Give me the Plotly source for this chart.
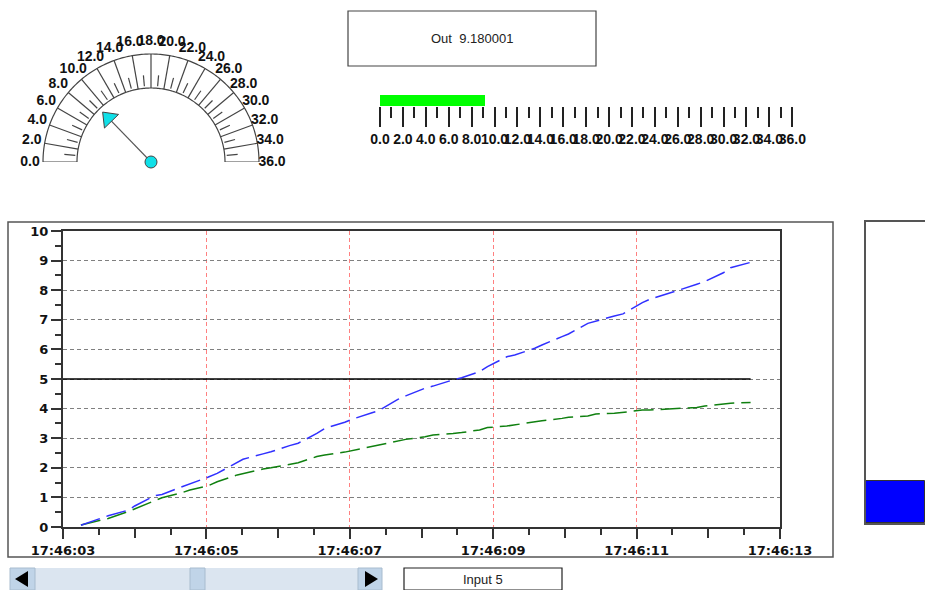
import plotly.graph_objects as go
import pandas as pd
import numpy as np

W, H = 925, 590

# ---------------- data ----------------
t_sec = [3.25, 3.52, 3.63, 3.91, 4.00, 4.28, 4.38, 4.66, 4.77, 5.02,
         5.15, 5.43, 5.51, 5.79, 5.90, 6.16, 6.28, 6.54, 6.65, 6.93,
         7.03, 7.31, 7.40, 7.67, 7.78, 8.05, 8.16, 8.44, 8.56, 8.81,
         8.92, 9.19, 9.30, 9.58, 9.68, 9.96, 10.05, 10.32, 10.43, 10.69,
         10.81, 11.08, 11.18, 11.46, 11.56, 11.84, 11.95, 12.21, 12.31, 12.59]
blue_vals = [0.06, 0.29, 0.38, 0.57, 0.71, 1.06, 1.10, 1.36, 1.45, 1.68,
             1.81, 2.20, 2.29, 2.47, 2.54, 2.75, 2.83, 3.16, 3.33, 3.54,
             3.64, 3.86, 3.93, 4.31, 4.43, 4.69, 4.76, 4.97, 5.04, 5.25,
             5.42, 5.75, 5.81, 6.04, 6.15, 6.43, 6.52, 6.88, 6.96, 7.13,
             7.20, 7.58, 7.69, 7.92, 7.98, 8.20, 8.29, 8.59, 8.76, 8.94]
green_vals = [0.07, 0.24, 0.29, 0.52, 0.61, 0.91, 0.99, 1.16, 1.25, 1.39,
              1.53, 1.76, 1.81, 1.96, 2.00, 2.12, 2.17, 2.38, 2.43, 2.53,
              2.58, 2.71, 2.75, 2.88, 2.96, 3.05, 3.11, 3.16, 3.19, 3.28,
              3.36, 3.41, 3.45, 3.56, 3.59, 3.67, 3.71, 3.75, 3.82, 3.84,
              3.88, 3.95, 3.95, 3.99, 4.01, 4.04, 4.09, 4.16, 4.18, 4.21]
limit_value = 5
limit_t = [3.0, 12.59]
x_range_sec = [3, 13]
base_time = "2024-01-01 17:46:00"

gauge_value = 9.180001
out_text = "Out  9.180001"
scale_min, scale_max = 0, 36
gauge_major = list(range(0, 37, 2))
gauge_minor = list(range(1, 36, 2))
gauge_labels = [f"{v:.1f}" for v in gauge_major]
input_value = 5
input_text = "Input 5"

# ---------------- helpers ----------------
def px(x):
    return x / W

def py(y):
    return 1 - y / H

base = pd.Timestamp(base_time)
def ts(s):
    return base + pd.Timedelta(seconds=s)

times = [ts(s) for s in t_sec]
BOLD = dict(family="Liberation Sans, Arial, sans-serif", weight="bold", color="#111")
AXFONT = dict(family="DejaVu Sans, Verdana, sans-serif", weight="bold", color="#111", size=13)

fig = go.Figure()

# ---------------- main chart ----------------
dash_pat = "20px,7px"
fig.add_trace(go.Scatter(x=[ts(s) for s in limit_t], y=[limit_value] * len(limit_t),
                         mode="lines", line=dict(color="#000000", width=1.5),
                         xaxis="x", yaxis="y", hoverinfo="skip"))
fig.add_trace(go.Scatter(x=times, y=green_vals, mode="lines",
                         line=dict(color="#108010", width=1.5, dash=dash_pat),
                         xaxis="x", yaxis="y"))
fig.add_trace(go.Scatter(x=times, y=blue_vals, mode="lines",
                         line=dict(color="#3030ff", width=1.5, dash=dash_pat),
                         xaxis="x", yaxis="y"))
# empty trace to register the 1-second tick overlay axis
fig.add_trace(go.Scatter(x=[], y=[], xaxis="x2", yaxis="y", hoverinfo="skip"))

xr = [ts(x_range_sec[0]), ts(x_range_sec[1])]
main_xdom = [px(63), px(780)]
main_ydom = [py(527), py(231)]
axcol = "#333333"

fig.update_layout(
    xaxis=dict(domain=main_xdom, anchor="y", type="date", range=xr,
               tick0=ts(x_range_sec[0]), dtick=2000, tickformat="%H:%M:%S",
               ticks="outside", ticklen=10, tickwidth=1.5, tickcolor=axcol,
               tickangle=0, tickfont=AXFONT, automargin=False,
               showgrid=True, gridcolor="#ff8080", griddash="4px,3px", gridwidth=1,
               minor=dict(dtick=500, ticks="outside", ticklen=6, tickwidth=1.5,
                          tickcolor=axcol, showgrid=False),
               showline=True, linecolor=axcol, linewidth=2, mirror=True,
               zeroline=False),
    xaxis2=dict(domain=main_xdom, anchor="y", overlaying="x", type="date", range=xr,
                tick0=ts(x_range_sec[0]), dtick=1000, ticks="outside", ticklen=10,
                tickwidth=1.5, tickcolor=axcol, showticklabels=False, automargin=False,
                showgrid=False, showline=False, zeroline=False),
    yaxis=dict(domain=main_ydom, anchor="x", range=[0, 10], dtick=1,
               ticks="outside", ticklen=10, tickwidth=1.5, tickcolor=axcol,
               tickfont=AXFONT, automargin=False,
               showgrid=True, gridcolor="#808080", griddash="4px,3px", gridwidth=1,
               minor=dict(dtick=0.5, ticks="outside", ticklen=6, tickwidth=1.5,
                          tickcolor=axcol, showgrid=False),
               showline=True, linecolor=axcol, linewidth=2, mirror=True,
               zeroline=False),
)

# ---------------- linear scale (top middle) ----------------
fig.add_trace(go.Bar(x=[gauge_value], y=[0], orientation="h", width=1,
                     marker=dict(color="#00ff00", line=dict(width=0)),
                     xaxis="x3", yaxis="y3"))
fig.update_layout(
    xaxis3=dict(domain=[px(380), px(792.3)], anchor="y3", range=[scale_min, scale_max],
                tickmode="linear", tick0=0, dtick=2, tickformat=".1f",
                ticks="outside", ticklen=20, tickwidth=1.5, tickcolor="#222",
                tickangle=0, tickfont=dict(size=14, **BOLD), automargin=False,
                minor=dict(dtick=1, ticks="outside", ticklen=11, tickwidth=1.5,
                           tickcolor="#222", showgrid=False),
                showline=False, showgrid=False, zeroline=False),
    yaxis3=dict(domain=[py(106), py(95)], anchor="x3", range=[-0.5, 0.5], visible=False,
                automargin=False),
)

# ---------------- vertical bar widget (right) ----------------
fig.add_trace(go.Bar(x=[0], y=[input_value], width=1,
                     marker=dict(color="#0000ff", line=dict(color="#333", width=1)),
                     xaxis="x4", yaxis="y4"))
fig.update_layout(
    xaxis4=dict(domain=[px(866), 1.0], anchor="y4", range=[-0.5, 0.5],
                showticklabels=False, ticks="", showgrid=False, zeroline=False,
                showline=True, linecolor="#555", linewidth=2, mirror=True, automargin=False),
    yaxis4=dict(domain=[py(523), py(222)], anchor="x4", range=[scale_min, scale_max],
                showticklabels=False, ticks="", showgrid=False, zeroline=False,
                showline=True, linecolor="#555", linewidth=2, automargin=False),
)

# ---------------- semicircular gauge ----------------
deg_per_unit = 180 / (scale_max - scale_min)
R_OUT, R_IN = 108, 74
R_LAB = 121
R_MAX = 136
CX, CY = 151, 162
def th(v):
    return (v - scale_min) * deg_per_unit

ring_col = "#444"
arc_theta = np.linspace(0, 180, 181)
for rr in (R_IN, R_OUT):
    fig.add_trace(go.Scatterpolar(r=[rr] * len(arc_theta), theta=arc_theta, mode="lines",
                                  line=dict(color=ring_col, width=1.2), hoverinfo="skip",
                                  cliponaxis=False))
maj_r, maj_t = [], []
for v in gauge_major:
    maj_r += [R_IN, R_OUT, None]
    maj_t += [th(v), th(v), None]
fig.add_trace(go.Scatterpolar(r=maj_r, theta=maj_t, mode="lines",
                              line=dict(color=ring_col, width=1.2), hoverinfo="skip",
                              cliponaxis=False))
min_r, min_t = [], []
for v in gauge_minor:
    min_r += [R_IN + 2, R_IN + 13, None]
    min_t += [th(v), th(v), None]
fig.add_trace(go.Scatterpolar(r=min_r, theta=min_t, mode="lines",
                              line=dict(color=ring_col, width=1.2), hoverinfo="skip",
                              cliponaxis=False))
# labels
fig.add_trace(go.Scatterpolar(r=[R_LAB] * len(gauge_major), theta=[th(v) for v in gauge_major],
                              mode="text", text=gauge_labels, textposition="middle center",
                              textfont=dict(size=14, **BOLD), hoverinfo="skip",
                              cliponaxis=False))
tv = th(gauge_value)
fig.add_trace(go.Scatterpolar(r=[0, 60], theta=[tv, tv], mode="lines",
                              line=dict(color="#555", width=1.2), hoverinfo="skip",
                              cliponaxis=False))
fig.add_trace(go.Scatterpolar(r=[61], theta=[tv], mode="markers",
                              marker=dict(symbol="triangle-up", size=17, angle=tv - 90,
                                          color="#10e0e8", line=dict(color="#444", width=1)),
                              hoverinfo="skip", cliponaxis=False))
fig.add_trace(go.Scatterpolar(r=[0], theta=[tv], mode="markers",
                              marker=dict(symbol="circle", size=12, color="#10e0e8",
                                          line=dict(color="#444", width=1)),
                              hoverinfo="skip", cliponaxis=False))

fig.update_layout(
    polar=dict(domain=dict(x=[px(CX - R_MAX), px(CX + R_MAX)], y=[py(CY), py(CY - R_MAX)]),
               sector=[0, 180], bgcolor="rgba(0,0,0,0)", hole=0,
               radialaxis=dict(range=[0, R_MAX], visible=False),
               angularaxis=dict(rotation=180, direction="clockwise", visible=False,
                                showticklabels=False, ticks="", showgrid=False,
                                showline=False)),
)

# ---------------- decorations (boxes, scrollbar) ----------------
shapes = []
annotations = []
txtfont = dict(family="Liberation Sans, Arial", size=13, color="#222")
# main chart outer frame
shapes.append(dict(type="rect", xref="paper", yref="paper", x0=px(8), x1=px(833),
                   y0=py(557), y1=py(222), line=dict(color="#555", width=1.5), layer="below"))
# Out box
shapes.append(dict(type="rect", xref="paper", yref="paper", x0=px(348), x1=px(596),
                   y0=py(66), y1=py(11), line=dict(color="#444", width=1.2)))
annotations.append(dict(xref="paper", yref="paper", x=px(472), y=py(39), text=out_text,
                        xanchor="center", yanchor="middle", showarrow=False, font=txtfont))
# Input box
shapes.append(dict(type="rect", xref="paper", yref="paper", x0=px(404), x1=px(562),
                   y0=py(590), y1=py(568), line=dict(color="#222", width=1.2)))
annotations.append(dict(xref="paper", yref="paper", x=px(483), y=py(579), text=input_text,
                        xanchor="center", yanchor="middle", showarrow=False, font=txtfont))
# scrollbar track
shapes.append(dict(type="rect", xref="paper", yref="paper", x0=px(35), x1=px(358),
                   y0=py(590), y1=py(568), fillcolor="#dbe5f0", line=dict(width=0)))
# buttons
for x0, x1 in [(10, 35), (358, 382), (190, 205)]:
    shapes.append(dict(type="rect", xref="paper", yref="paper", x0=px(x0), x1=px(x1),
                       y0=py(590), y1=py(568), fillcolor="#c0d4e8",
                       line=dict(color="#a8bccf", width=1)))
# arrows
def tri(pts):
    return "M " + " L ".join(f"{px(a)},{py(b)}" for a, b in pts) + " Z"
shapes.append(dict(type="path", xref="paper", yref="paper",
                   path=tri([(15, 579), (28, 571), (28, 587)]), fillcolor="#000", line=dict(width=0)))
shapes.append(dict(type="path", xref="paper", yref="paper",
                   path=tri([(378, 579), (365, 571), (365, 587)]), fillcolor="#000", line=dict(width=0)))

fig.update_layout(
    width=W, height=H, margin=dict(l=0, r=0, t=0, b=0, pad=0, autoexpand=False),
    paper_bgcolor="white", plot_bgcolor="white", showlegend=False,
    bargap=0, shapes=shapes, annotations=annotations,
)

fig.write_html("out.html", config={"displayModeBar": False},
               post_script="document.body.style.margin='0';")
